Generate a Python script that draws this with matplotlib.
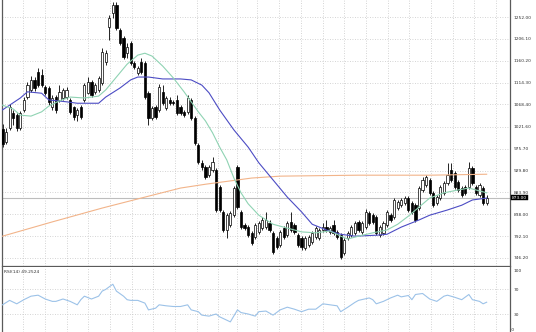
import numpy as np
import matplotlib
matplotlib.use("Agg")
import matplotlib.pyplot as plt

# daily candles, oldest first
opens = [1017, 990, 1019, 1050, 1046, 1019, 1057, 1084, 1099, 1120,
         1137, 1130, 1105, 1103, 1063, 1084, 1078, 1082, 1084, 1078,
         1063, 1046, 1063, 1078, 1093, 1116, 1095, 1099, 1113, 1158,
         1231, 1260, 1277, 1225, 1208, 1176, 1197, 1155, 1134, 1158,
         1155, 1092, 1040, 1063, 1057, 1095, 1061, 1078, 1074, 1078,
         1063, 1053, 1053, 1078, 1040, 983, 946, 937, 920, 931,
         931, 895, 843, 805, 815, 836, 937, 843, 815, 811,
         799, 790, 801, 809, 811, 820, 799, 788, 773, 809,
         794, 822, 815, 794, 788, 767, 773, 780, 790, 788,
         805, 811, 801, 815, 801, 794, 757, 788, 794, 799,
         822, 801, 811, 841, 836, 832, 794, 799, 815, 836,
         832, 851, 857, 862, 872, 862, 857, 851, 889, 899,
         910, 883, 862, 872, 883, 904, 931, 925, 906, 893,
         895, 895, 935, 895, 878, 893, 862]
highs = [1027, 1019, 1070, 1057, 1050, 1055, 1084, 1116, 1128, 1126,
         1145, 1143, 1109, 1107, 1088, 1088, 1109, 1103, 1105, 1082,
         1065, 1061, 1067, 1113, 1126, 1120, 1113, 1128, 1187, 1183,
         1256, 1283, 1283, 1229, 1212, 1197, 1201, 1160, 1149, 1166,
         1160, 1097, 1065, 1067, 1111, 1109, 1086, 1084, 1078, 1088,
         1067, 1057, 1088, 1082, 1044, 987, 951, 941, 941, 958,
         935, 899, 847, 840, 845, 897, 941, 847, 820, 815,
         803, 820, 824, 832, 843, 826, 803, 792, 805, 813,
         824, 843, 820, 799, 792, 792, 794, 803, 813, 809,
         820, 826, 813, 826, 805, 799, 788, 803, 815, 824,
         826, 824, 849, 845, 841, 836, 815, 824, 847, 841,
         872, 868, 872, 876, 876, 866, 862, 897, 916, 920,
         914, 887, 878, 899, 908, 945, 945, 929, 910, 897,
         899, 948, 939, 899, 904, 897, 878]
lows = [979, 985, 1015, 1025, 1012, 1015, 1052, 1080, 1095, 1097,
        1105, 1105, 1088, 1067, 1057, 1050, 1074, 1078, 1080, 1048,
        1036, 1034, 1038, 1074, 1090, 1084, 1090, 1095, 1109, 1151,
        1204, 1250, 1225, 1193, 1164, 1166, 1151, 1143, 1130, 1132,
        1080, 1025, 1036, 1038, 1052, 1067, 1057, 1067, 1067, 1046,
        1046, 1042, 1048, 1036, 983, 944, 931, 912, 916, 927,
        843, 843, 800, 788, 811, 832, 849, 807, 805, 790,
        773, 786, 796, 805, 807, 801, 755, 765, 769, 786,
        790, 801, 796, 769, 763, 763, 769, 776, 786, 784,
        801, 801, 796, 794, 786, 744, 752, 784, 790, 794,
        801, 796, 807, 815, 818, 794, 790, 794, 811, 822,
        828, 847, 853, 857, 843, 838, 822, 847, 885, 895,
        878, 853, 857, 868, 878, 899, 906, 891, 885, 874,
        878, 891, 899, 878, 874, 857, 857]
closes = [985, 1011, 1063, 1040, 1019, 1050, 1078, 1109, 1120, 1103,
          1109, 1109, 1093, 1074, 1082, 1057, 1095, 1099, 1099, 1053,
          1042, 1057, 1042, 1109, 1116, 1088, 1109, 1124, 1179, 1177,
          1250, 1277, 1229, 1197, 1168, 1189, 1155, 1147, 1145, 1137,
          1084, 1040, 1061, 1042, 1105, 1071, 1082, 1071, 1071, 1050,
          1050, 1046, 1082, 1040, 987, 948, 937, 916, 937, 948,
          847, 847, 805, 836, 841, 893, 853, 811, 809, 794,
          778, 815, 820, 826, 826, 805, 759, 769, 801, 790,
          820, 805, 801, 773, 769, 788, 790, 799, 809, 805,
          811, 805, 809, 799, 790, 748, 784, 799, 811, 820,
          805, 820, 843, 820, 822, 799, 811, 820, 843, 826,
          868, 864, 868, 872, 847, 843, 826, 893, 910, 916,
          883, 857, 874, 895, 904, 920, 910, 895, 889, 878,
          883, 935, 904, 883, 899, 862, 873]

# moving averages, sampled at bar numbers
ma_fast_idx = [0, 3, 5, 8, 11, 13, 16, 19, 23, 27, 29, 32, 35, 38, 40, 42,
               45, 48, 51, 53, 55, 57, 59, 61, 63, 65, 67, 69, 72, 76, 80,
               84, 88, 92, 95, 97, 100, 104, 108, 111, 114, 117, 120, 124,
               128, 131, 134, 136]
ma_fast = [1067, 1059, 1046, 1044, 1053, 1065, 1076, 1084, 1082, 1086,
           1099, 1126, 1153, 1172, 1176, 1170, 1149, 1124, 1095, 1074,
           1053, 1034, 1009, 979, 952, 914, 883, 860, 836, 817, 809,
           801, 799, 803, 792, 786, 792, 799, 805, 817, 834, 853, 872,
           883, 889, 893, 887, 883]
ma_mid_idx = [0, 5, 7, 11, 13, 18, 21, 27, 29, 33, 36, 38, 41, 45, 50, 53,
              56, 58, 61, 65, 69, 72, 76, 80, 84, 87, 91, 95, 99, 105, 108,
              112, 117, 120, 125, 129, 132, 136]
ma_mid = [1057, 1082, 1095, 1092, 1078, 1074, 1071, 1071, 1084, 1103,
          1120, 1126, 1126, 1122, 1122, 1120, 1109, 1093, 1057, 1015,
          979, 946, 910, 874, 843, 817, 805, 796, 792, 794, 796, 811,
          826, 836, 847, 857, 868, 872]
ma_slow_idx = [0, 14, 28, 40, 50, 57, 64, 70, 78, 100, 120, 136]
ma_slow = [792, 822, 851, 874, 893, 901, 908, 914, 918, 920, 920, 922]

rsi_idx = [0, 2, 4, 6, 8, 10, 12, 14, 15, 17, 19, 21, 22, 23, 25, 27, 28,
           29, 30, 31, 32, 34, 35, 36, 38, 40, 41, 43, 44, 46, 48, 50, 52,
           53, 55, 56, 58, 60, 61, 63, 64, 66, 67, 69, 71, 72, 74, 76, 78,
           80, 82, 84, 86, 88, 90, 92, 94, 95, 97, 99, 100, 103, 104, 105,
           107, 109, 111, 112, 114, 115, 116, 118, 120, 122, 124, 125, 127,
           129, 131, 132, 134, 135, 136]
rsi = [45.1, 52.2, 46.7, 53.3, 58.9, 60.5, 54.4, 50.6, 50.6, 54.4, 50.6,
       45.1, 53.3, 58.9, 54.4, 58.9, 67, 69.8, 74, 78, 67, 58.9, 53.3,
       52.2, 52.2, 47.8, 37, 39.7, 45.1, 43.5, 42.4, 42.4, 45.1, 37, 34.1,
       28.6, 27, 30.4, 25.9, 20.5, 17.8, 37, 32.7, 30.4, 27, 34.1, 35.1,
       28.6, 37, 41.3, 38.1, 34.1, 38.1, 38.1, 46.7, 45.1, 43.5, 34.1,
       41.3, 49, 52.2, 56.1, 53.3, 46.7, 50.6, 56.1, 60.5, 57.8, 60, 53.3,
       61.6, 63.2, 54.4, 50.6, 58.9, 60.5, 57.2, 53.3, 61.6, 53.3, 50.6,
       46.7, 49.2524]

price_ticks = [1252.00, 1206.10, 1160.20, 1114.30, 1068.40, 1021.60,
               975.70, 929.80, 883.90, 838.00, 792.10, 746.20]
rsi_ticks = [100, 70, 30]
last_price = 873.00

W, H = 536, 332
LEFT, RIGHT = 2, 510.5          # plot area edges in pixels
BAR0, BAR_STEP = 2.5, 3.56      # pixel centre of bar 0 and bar spacing

fig = plt.figure(figsize=(W / 100, H / 100), dpi=100)
fig.patch.set_facecolor("white")

ax = fig.add_axes([LEFT / W, 66 / H, (RIGHT - LEFT) / W, 266 / H])
ax_rsi = fig.add_axes([LEFT / W, 0, (RIGHT - LEFT) / W, 65 / H])

o = np.array(opens, float)
h = np.array(highs, float)
l = np.array(lows, float)
c = np.array(closes, float)
x = np.arange(len(o))
up = c >= o

def px2bar(p):
    return (np.asarray(p, float) - BAR0) / BAR_STEP

xlim = (px2bar(LEFT), px2bar(RIGHT))
# vertical grid (time separators) in pixels
grid_px = [23.3, 45, 66.7, 88.3, 110, 131.7, 153.3, 175, 196.7, 218.3, 237,
           257.3, 279.3, 301, 322.7, 344.3, 366, 387.7, 409.3, 431, 452.7,
           474.3, 496]
grid_x = px2bar(grid_px)
grid_col = "#c6c6c6"
axis_col = "#5a5a5a"
txt_col = "#333333"
fs = 3.2

# --- price panel ---
for gx in grid_x:
    ax.axvline(gx, color=grid_col, lw=0.6, dashes=(1, 2), zorder=0)
for p in price_ticks:
    ax.axhline(p, color=grid_col, lw=0.6, dashes=(1, 2), zorder=0)
ax.axhline(last_price, color="#bdbdbd", lw=0.8, zorder=1)

ax.vlines(x, l, h, color="black", lw=0.6, zorder=2)
body = np.maximum(np.abs(c - o), 1.0)
ax.bar(x, body, bottom=np.minimum(o, c), width=0.62,
       color=np.where(up, "white", "black"), edgecolor="black",
       linewidth=0.5, zorder=3)

ax.plot(ma_slow_idx, ma_slow, color="#f2b48a", lw=0.8, zorder=4)
ax.plot(ma_mid_idx, ma_mid, color="#4c4cc4", lw=0.8, zorder=4)
ax.plot(ma_fast_idx, ma_fast, color="#8fd3b3", lw=0.8, zorder=4)

ax.set_xlim(*xlim)
ax.set_ylim(729.4, 1287.7)
ax.set_xticks([])
ax.yaxis.tick_right()
ax.set_yticks(price_ticks)
ax.set_yticklabels([f"{p:.2f}" for p in price_ticks])
ax.tick_params(axis="y", length=0, pad=2, labelsize=fs, labelcolor=txt_col)
ax.spines["top"].set_visible(False)
for s in ("left", "right", "bottom"):
    ax.spines[s].set_color(axis_col)
    ax.spines[s].set_linewidth(0.9)

ax.text(1.003, last_price, f"{last_price:.2f}", transform=ax.get_yaxis_transform(),
        ha="left", va="center", fontsize=fs, color="white", zorder=10,
        clip_on=False,
        bbox=dict(boxstyle="square,pad=0.2", fc="black", ec="black", lw=0.3))

# --- RSI panel ---
for gx in grid_x:
    ax_rsi.axvline(gx, color=grid_col, lw=0.6, dashes=(1, 2), zorder=0)
for lv in (70, 30):
    ax_rsi.axhline(lv, color=grid_col, lw=0.6, dashes=(1, 2), zorder=0)
ax_rsi.plot(rsi_idx, rsi, color="#9cc2e8", lw=0.8, zorder=3)

ax_rsi.set_xlim(*xlim)
ax_rsi.set_ylim(1.6, 105.6)
ax_rsi.set_xticks([])
ax_rsi.yaxis.tick_right()
ax_rsi.set_yticks(rsi_ticks)
ax_rsi.set_yticklabels([str(t) for t in rsi_ticks])
ax_rsi.tick_params(axis="y", length=0, pad=2, labelsize=fs, labelcolor=txt_col)
# the 0 level sits on the bottom edge, keep its label inside the figure
ax_rsi.text(1.0, 0.005, " 0", transform=ax_rsi.transAxes, ha="left",
            va="bottom", fontsize=fs, color=txt_col, clip_on=False)
ax_rsi.spines["top"].set_visible(False)
ax_rsi.spines["bottom"].set_visible(False)
for s in ("left", "right"):
    ax_rsi.spines[s].set_color(axis_col)
    ax_rsi.spines[s].set_linewidth(0.9)
ax_rsi.text(0.003, 0.96, f"RSI(14) {rsi[-1]:.4f}", transform=ax_rsi.transAxes,
            ha="left", va="top", fontsize=fs, color=txt_col)

fig.savefig("out.png", dpi=100)
